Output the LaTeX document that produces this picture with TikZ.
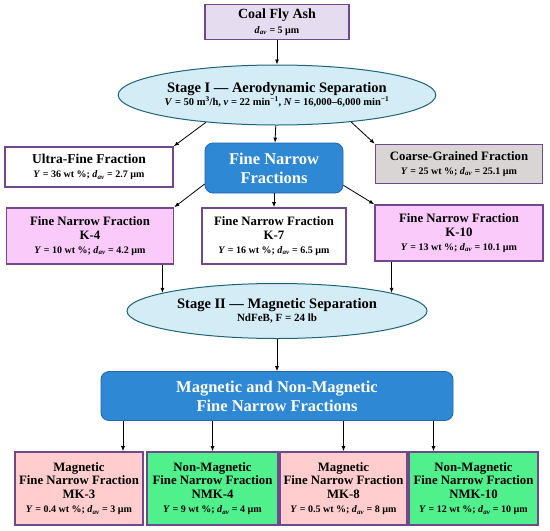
\documentclass[tikz,border=0pt]{standalone}
\usepackage{fontspec}
\setmainfont{Liberation Serif}
\usepackage{tikz}
\usetikzlibrary{arrows.meta,shapes.geometric}

\definecolor{boxline}{RGB}{112,72,140}
\definecolor{ashfill}{RGB}{230,220,240}
\definecolor{stagefill}{RGB}{212,236,246}
\definecolor{stageline}{RGB}{30,100,120}
\definecolor{groupfill}{RGB}{46,136,212}
\definecolor{groupline}{RGB}{36,100,170}
\definecolor{coarsefill}{RGB}{218,213,213}
\definecolor{kfill}{RGB}{250,202,250}
\definecolor{magfill}{RGB}{255,205,205}
\definecolor{nonmagfill}{RGB}{80,240,140}

\newcommand{\boxdata}[1]{{\fontsize{10}{12}\selectfont #1}}
\newcommand{\dav}{\textit{d}\textsubscript{\textit{av}}}

\tikzset{
  fraction/.style = {draw=boxline, line width=1.6pt, fill=white, align=center,
    font=\bfseries\fontsize{12.8}{13.8}\selectfont, inner sep=1pt, minimum width=#1},
  fraction/.default = {160pt},
  stage/.style = {ellipse, draw=stageline, line width=1pt, fill=stagefill,
    align=center, font=\bfseries\fontsize{14.5}{13.5}\selectfont, inner sep=0pt},
  group/.style = {rounded corners=8pt, draw=groupline, line width=0.8pt,
    fill=groupfill, text=white, align=center, font=\bfseries\fontsize{16.5}{19}\selectfont},
  arr/.style = {-{Latex[length=5pt,width=4pt]}, line width=0.8pt}
}

\begin{document}
\begin{tikzpicture}[x=1pt, y=-1pt]
  \useasboundingbox (0,0) rectangle (550,531);

  % source and first stage
  \node[fraction=144pt, fill=ashfill, minimum height=35pt, font=\bfseries\fontsize{14}{15}\selectfont] (ash) at (277,22)
    {Coal Fly Ash\\ \boxdata{\dav{} = 5 µm}};
  \node[stage, minimum width=312pt, minimum height=60pt] (stage1) at (277,95)
    {Stage I — Aerodynamic Separation\\
     {\fontsize{10.5}{12}\selectfont\textit{V} = 50 m\textsuperscript{3}/h, \textit{v} = 22 min\textsuperscript{−1}, \textit{N} = 16,000–6,000 min\textsuperscript{−1}}};

  % products of stage I
  \node[fraction=168pt, minimum height=40pt, font=\bfseries\fontsize{13.5}{14.5}\selectfont] (ultra) at (89,167)
    {Ultra-Fine Fraction\\ \boxdata{\textit{Y} = 36 wt \%; \dav{} = 2.7 µm}};
  \node[group, minimum width=138pt, minimum height=50pt] (narrow) at (274,168)
    {Fine Narrow\\ Fractions};
  \node[fraction=167pt, fill=coarsefill, minimum height=39pt] (coarse) at (459,164)
    {Coarse-Grained Fraction\\ \boxdata{\textit{Y} = 25 wt \%; \dav{} = 25.1 µm}};

  % fine narrow fractions
  \node[fraction=167pt, fill=kfill, minimum height=56pt] (k4) at (90,236)
    {Fine Narrow Fraction\\ K-4\\ \boxdata{\textit{Y} = 10 wt \%; \dav{} = 4.2 µm}};
  \node[fraction=144pt, minimum height=56pt] (k7) at (274,236)
    {Fine Narrow Fraction\\ K-7\\ \boxdata{\textit{Y} = 16 wt \%; \dav{} = 6.5 µm}};
  \node[fraction=168pt, fill=kfill, minimum height=56pt] (k10) at (459,233)
    {Fine Narrow Fraction\\ K-10\\ \boxdata{\textit{Y} = 13 wt \%; \dav{} = 10.1 µm}};

  % second stage
  \node[stage, minimum width=300pt, minimum height=55pt] (stage2) at (277,311)
    {Stage II — Magnetic Separation\\ {\fontsize{11}{12}\selectfont NdFeB, F = 24 lb}};
  \node[group, minimum width=352pt, minimum height=49pt] (magnetic) at (277,396)
    {Magnetic and Non-Magnetic\\ Fine Narrow Fractions};

  % products of stage II
  \node[fraction=128pt, fill=magfill, minimum height=73pt] (mk3) at (79,488.5)
    {Magnetic\\ Fine Narrow Fraction\\ MK-3\\ \boxdata{\textit{Y} = 0.4 wt \%; \dav{} = 3 µm}};
  \node[fraction=131pt, fill=nonmagfill, minimum height=73pt] (nmk4) at (212.5,488.5)
    {Non-Magnetic\\ Fine Narrow Fraction\\ NMK-4\\ \boxdata{\textit{Y} = 9 wt \%; \dav{} = 4 µm}};
  \node[fraction=127pt, fill=magfill, minimum height=73pt] (mk8) at (343.5,488.5)
    {Magnetic\\ Fine Narrow Fraction\\ MK-8\\ \boxdata{\textit{Y} = 0.5 wt \%; \dav{} = 8 µm}};
  \node[fraction=129pt, fill=nonmagfill, minimum height=73pt] (nmk10) at (473.5,488.5)
    {Non-Magnetic\\ Fine Narrow Fraction\\ NMK-10\\ \boxdata{\textit{Y} = 12 wt \%; \dav{} = 10 µm}};

  % connectors
  \draw[arr] (ash) -- (stage1);
  \draw[arr] (stage1.201) -- (ultra.north east);
  \draw[arr] (stage1) -- (narrow);
  \draw[arr] (stage1.340) -- (coarse.north west);
  \draw[arr] (narrow.193) -- (k4.north east);
  \draw[arr] (narrow) -- (k7);
  \draw[arr] (narrow.346) -- (k10.north west);
  \draw[arr] (k4.south -| stage2.171) -- (stage2.171);
  \draw[arr] (k10.south -| stage2.9) -- (stage2.9);
  \draw[arr] (stage2) -- (magnetic);
  \draw[arr] ([xshift=44pt]mk3.north |- magnetic.south) -- ([xshift=44pt]mk3.north);
  \draw[arr] (nmk4.north |- magnetic.south) -- (nmk4.north);
  \draw[arr] (mk8.north |- magnetic.south) -- (mk8.north);
  \draw[arr] ([xshift=-40pt]nmk10.north |- magnetic.south) -- ([xshift=-40pt]nmk10.north);
\end{tikzpicture}
\end{document}
